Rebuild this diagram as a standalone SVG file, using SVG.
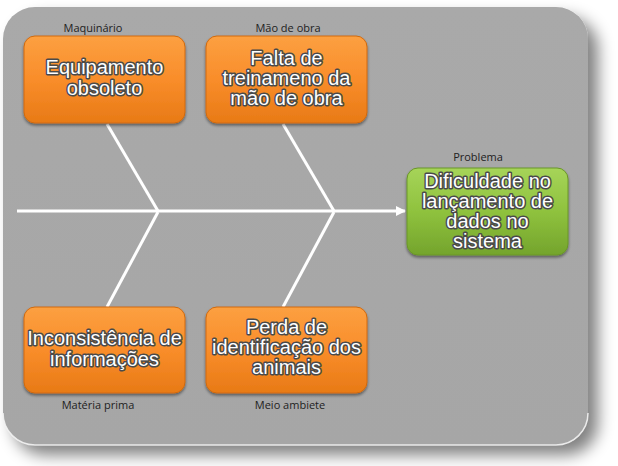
<svg xmlns="http://www.w3.org/2000/svg" width="618" height="466" viewBox="0 0 618 466">
<defs>
<filter id="shadow" x="-10%" y="-10%" width="130%" height="130%">
<feGaussianBlur in="SourceAlpha" stdDeviation="8"/>
<feOffset dx="10" dy="10" result="b"/>
<feComponentTransfer><feFuncA type="linear" slope="0.5"/></feComponentTransfer>
<feMerge><feMergeNode/><feMergeNode in="SourceGraphic"/></feMerge>
</filter>
<filter id="boxsh" x="-10%" y="-10%" width="120%" height="130%">
<feGaussianBlur in="SourceAlpha" stdDeviation="1.5"/>
<feOffset dx="0" dy="2"/>
<feComponentTransfer><feFuncA type="linear" slope="0.45"/></feComponentTransfer>
<feMerge><feMergeNode/><feMergeNode in="SourceGraphic"/></feMerge>
</filter>
<linearGradient id="bg" x1="0" y1="0" x2="0" y2="1">
<stop offset="0" stop-color="#a9a9a9"/>
<stop offset="1" stop-color="#a6a6a6"/>
</linearGradient>
<linearGradient id="og" x1="0" y1="0" x2="0" y2="1">
<stop offset="0" stop-color="#fca041"/>
<stop offset="0.5" stop-color="#f98d2a"/>
<stop offset="1" stop-color="#e87a16"/>
</linearGradient>
<linearGradient id="gg" x1="0" y1="0" x2="0" y2="1">
<stop offset="0" stop-color="#a6d459"/>
<stop offset="0.5" stop-color="#8fc23e"/>
<stop offset="1" stop-color="#74a42c"/>
</linearGradient>
<marker id="arr" markerWidth="10" markerHeight="10" refX="9" refY="5" orient="auto" markerUnits="userSpaceOnUse">
<path d="M0,0 L10,5 L0,10 z" fill="#ffffff"/>
</marker>
</defs>
<style>
.lbl{font-family:"Open Sans","Liberation Sans",sans-serif;font-size:11px;fill:#222;text-anchor:middle}
.bt{font-family:"Liberation Sans",Arial,sans-serif;font-size:20px;fill:#ffffff;text-anchor:middle;stroke:#4a4a4a;stroke-width:3;paint-order:stroke;stroke-linejoin:round}
.ob{fill:url(#og);stroke:#d06a10;stroke-width:1}
.gb{fill:url(#gg);stroke:#6a9628;stroke-width:1}
.ln{stroke:#ffffff;stroke-width:3;fill:none}
</style>
<rect width="618" height="466" fill="#ffffff"/>
<g id="background">
<rect x="3" y="7" width="585" height="438" rx="32" fill="url(#bg)" filter="url(#shadow)"/>
<path d="M3,413 A32,32 0 0 0 35,445 L556,445 A32,32 0 0 0 588,413" fill="none" stroke="#f2f2f2" stroke-width="1.5" opacity="0.9"/>
</g>
<g id="connectors">
<line class="ln" x1="17" y1="211" x2="405" y2="211" marker-end="url(#arr)"/>
<line class="ln" x1="107" y1="124" x2="158" y2="211"/>
<line class="ln" x1="283" y1="124" x2="334" y2="211"/>
<line class="ln" x1="158" y1="212" x2="107" y2="307"/>
<line class="ln" x1="334" y1="212" x2="283" y2="307"/>
</g>
<g id="maquinario">
<text class="lbl" x="93" y="32">Maquinário</text>
<rect class="ob" x="24" y="36" width="161" height="87" rx="11" filter="url(#boxsh)"/>
<text class="bt" x="104.5" y="74">Equipamento</text>
<text class="bt" x="104.5" y="95">obsoleto</text>
</g>
<g id="mao-de-obra">
<text class="lbl" x="288" y="32">Mão de obra</text>
<rect class="ob" x="206" y="36" width="161" height="87" rx="11" filter="url(#boxsh)"/>
<text class="bt" x="286.5" y="65">Falta de</text>
<text class="bt" x="286.5" y="85">treinameno da</text>
<text class="bt" x="286.5" y="105">mão de obra</text>
</g>
<g id="problema">
<text class="lbl" x="478" y="161">Problema</text>
<rect class="gb" x="407" y="168" width="161" height="87" rx="11" filter="url(#boxsh)"/>
<text class="bt" x="487.5" y="188">Dificuldade no</text>
<text class="bt" x="487.5" y="208">lançamento de</text>
<text class="bt" x="487.5" y="228">dados no</text>
<text class="bt" x="487.5" y="248">sistema</text>
</g>
<g id="materia-prima">
<rect class="ob" x="24" y="307" width="161" height="86" rx="11" filter="url(#boxsh)"/>
<text class="bt" x="104.5" y="345">Inconsistência de</text>
<text class="bt" x="104.5" y="366">informações</text>
<text class="lbl" x="98" y="409">Matéria prima</text>
</g>
<g id="meio-ambiente">
<rect class="ob" x="206" y="307" width="161" height="86" rx="11" filter="url(#boxsh)"/>
<text class="bt" x="286.5" y="334">Perda de</text>
<text class="bt" x="286.5" y="354">identificação dos</text>
<text class="bt" x="286.5" y="374">animais</text>
<text class="lbl" x="290" y="409">Meio ambiete</text>
</g>
</svg>
